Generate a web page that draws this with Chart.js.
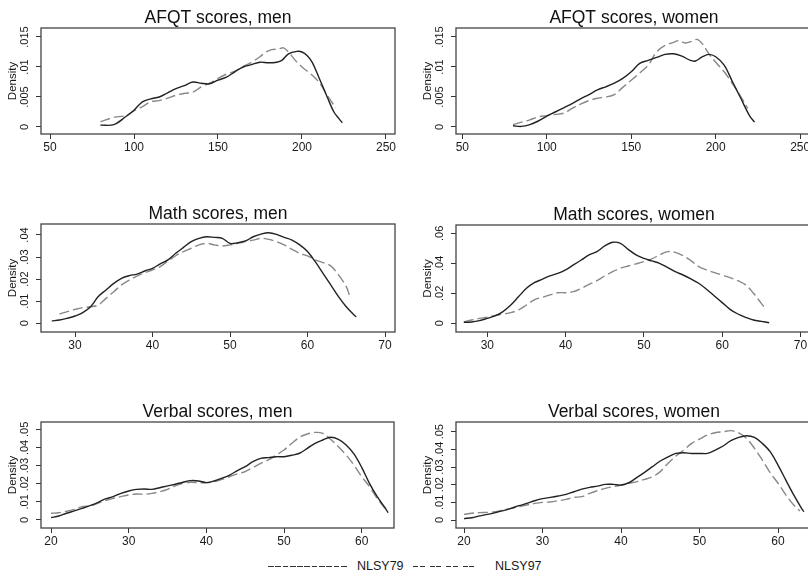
<!DOCTYPE html>
<html>
<head>
<meta charset="utf-8">
<script src="https://cdn.jsdelivr.net/npm/chart.js@4.4.1/dist/chart.umd.min.js"></script>
<style>
  html, body { margin: 0; padding: 0; background: #fff; overflow: hidden; width: 808px; height: 575px; }
  .panel { position: absolute; }
  .legend { position: absolute; top: 558px; font: 12.5px "Liberation Sans", Arial, sans-serif; color: #1a1a1a; white-space: pre; line-height: 16px; }
  .key { position: absolute; top: 566px; height: 1.3px; }
  .key79 { left: 268px; width: 80px; background: repeating-linear-gradient(to right, #333 0 5.6px, transparent 5.6px 7.3px); }
  .key97 { left: 413px; width: 65px; background: repeating-linear-gradient(to right, #333 0 5px, transparent 5px 6.6px, #333 6.6px 11.6px, transparent 11.6px 16.6px); }
</style>
</head>
<body>
<div class="key key79"></div>
<div class="legend" style="left:357px;">NLSY79</div>
<div class="key key97"></div>
<div class="legend" style="left:495px;">NLSY97</div>

<script>
// series names
const seriesNames = ['NLSY79', 'NLSY97'];

// AFQT scores, men
const afqtMenX79 = [80, 88, 95, 100, 105, 110, 115, 120, 125, 130, 135, 140, 145, 150, 155, 160, 165, 170, 175, 180, 185, 188, 192, 197, 200, 203, 206, 210, 215, 219, 222, 224];
const afqtMenY79 = [.0003, .0004, .0017, .0028, .0042, .0047, .005, .0057, .0064, .0069, .0075, .0073, .0072, .0078, .0083, .0092, .01, .0104, .0108, .0107, .0108, .0111, .0122, .0126, .0125, .0119, .0108, .0083, .005, .0025, .0014, .0007];
const afqtMenX97 = [80, 88, 95, 100, 105, 110, 115, 120, 125, 130, 135, 140, 145, 150, 155, 160, 165, 170, 175, 178, 182, 186, 189, 192, 196, 200, 205, 210, 215, 220];
const afqtMenY97 = [.0009, .0016, .0019, .0027, .0034, .0042, .0044, .0048, .0053, .0056, .0058, .0067, .0073, .0081, .0088, .0093, .0101, .0108, .0117, .0124, .0129, .013, .0132, .0125, .0111, .01, .0089, .0075, .0053, .0032];

// AFQT scores, women
const afqtWomenX79 = [80, 85, 90, 95, 100, 105, 110, 115, 120, 125, 130, 135, 140, 145, 150, 155, 160, 165, 170, 175, 180, 185, 188, 192, 196, 200, 205, 210, 215, 220, 223];
const afqtWomenY79 = [.0002, .0001, .0004, .001, .0018, .0025, .0032, .0039, .0047, .0054, .0062, .0067, .0073, .0081, .0092, .0106, .0111, .0116, .0121, .0122, .0118, .0111, .011, .0117, .0121, .0117, .0103, .0075, .0047, .0019, .0008];
const afqtWomenX97 = [80, 85, 90, 95, 100, 105, 110, 115, 120, 125, 130, 135, 140, 145, 150, 155, 160, 165, 170, 175, 178, 182, 186, 189, 192, 196, 200, 205, 210, 215, 219];
const afqtWomenY97 = [.0004, .0008, .0012, .0017, .0019, .0021, .0023, .0031, .0038, .0044, .0048, .005, .0054, .0066, .0078, .009, .0103, .0125, .0136, .0141, .0144, .014, .0143, .0146, .0139, .0122, .0108, .0092, .0072, .005, .0031];

// Math scores, men
const mathMenX79 = [27, 28, 29, 30, 31, 32, 33, 34, 35, 36, 37, 38, 39, 40, 41, 42, 43, 44, 45, 46, 47, 48, 49, 50, 51, 52, 53, 54, 55, 56, 57, 58, 59, 60, 61, 62, 63, 64, 65, 66, 66.3];
const mathMenY79 = [.0011, .0015, .0023, .0033, .0048, .0075, .0121, .0151, .0181, .0204, .0216, .0223, .0237, .0249, .0269, .0287, .0317, .0344, .037, .0385, .0392, .0389, .0385, .0362, .0365, .0373, .0392, .0404, .041, .0403, .0389, .0377, .0355, .0325, .0279, .0226, .0174, .0121, .0075, .0038, .0029];
const mathMenX97 = [28, 29, 30, 31, 32, 33, 34, 35, 36, 37, 38, 39, 40, 41, 42, 43, 44, 45, 46, 47, 48, 49, 50, 51, 52, 53, 54, 55, 56, 57, 58, 59, 60, 61, 62, 63, 64, 65, 65.4];
const mathMenY97 = [.0042, .0053, .0063, .0071, .0075, .0083, .0113, .0143, .0174, .0196, .0214, .0229, .0242, .0257, .0282, .0306, .0325, .034, .0355, .0362, .0355, .035, .0355, .0362, .037, .0377, .0385, .038, .037, .0355, .0335, .0317, .0305, .0287, .0275, .026, .0219, .0166, .0128];

// Math scores, women
const mathWomenX79 = [27, 28, 29, 30, 31, 32, 33, 34, 35, 36, 37, 38, 39, 40, 41, 42, 43, 44, 45, 46, 47, 48, 49, 50, 51, 52, 53, 54, 55, 56, 57, 58, 59, 60, 61, 62, 63, 64, 65, 66];
const mathWomenY79 = [.0007, .0009, .0018, .0033, .0049, .0078, .0122, .0178, .0233, .0271, .0293, .0316, .0333, .0356, .0389, .0422, .0456, .0478, .0516, .054, .0533, .0493, .0456, .0433, .0416, .04, .0373, .0344, .0322, .0296, .0267, .0227, .0182, .0138, .0093, .0062, .004, .0022, .0013, .0004];
const mathWomenX97 = [27, 28, 29, 30, 31, 32, 33, 34, 35, 36, 37, 38, 39, 40, 41, 42, 43, 44, 45, 46, 47, 48, 49, 50, 51, 52, 53, 54, 55, 56, 57, 58, 59, 60, 61, 62, 63, 64, 65, 65.5];
const mathWomenY97 = [.0009, .0022, .0033, .004, .0053, .0062, .0071, .0089, .0122, .0156, .0173, .0189, .0204, .0204, .0211, .0233, .026, .0284, .0316, .0344, .0367, .0382, .0396, .0411, .0429, .0456, .0478, .0473, .0451, .0418, .0378, .0356, .0338, .0322, .0304, .0284, .0256, .02, .0133, .01];

// Verbal scores, men
const verbalMenX79 = [20, 21, 22, 23, 24, 25, 26, 27, 28, 29, 30, 31, 32, 33, 34, 35, 36, 37, 38, 39, 40, 41, 42, 43, 44, 45, 46, 47, 48, 49, 50, 51, 52, 53, 54, 55, 56, 57, 58, 59, 60, 61, 62, 63, 63.4];
const verbalMenY79 = [.0013, .0022, .0037, .005, .0064, .0079, .0096, .0116, .0129, .0147, .016, .0169, .0171, .0169, .0178, .0188, .0197, .0208, .0217, .0215, .0206, .0215, .023, .0248, .0272, .0294, .0322, .034, .0344, .0349, .0349, .0357, .0368, .0395, .0423, .0441, .0456, .0445, .0414, .0364, .029, .0202, .0129, .0068, .004];
const verbalMenX97 = [20, 21, 22, 23, 24, 25, 26, 27, 28, 29, 30, 31, 32, 33, 34, 35, 36, 37, 38, 39, 40, 41, 42, 43, 44, 45, 46, 47, 48, 49, 50, 51, 52, 53, 54, 55, 56, 57, 58, 59, 60, 61, 62, 63];
const verbalMenY97 = [.0037, .004, .0048, .0059, .0074, .0077, .0092, .0107, .0119, .0129, .0138, .0143, .0142, .0147, .0156, .0169, .0188, .0202, .0208, .0206, .0206, .0211, .0224, .0239, .0254, .0267, .0289, .0312, .0331, .0358, .0386, .0423, .0456, .0474, .0483, .0478, .0445, .0404, .0358, .0303, .0239, .0184, .0119, .0064];

// Verbal scores, women
const verbalWomenX79 = [20, 21, 22, 23, 24, 25, 26, 27, 28, 29, 30, 31, 32, 33, 34, 35, 36, 37, 38, 39, 40, 41, 42, 43, 44, 45, 46, 47, 48, 49, 50, 51, 52, 53, 54, 55, 56, 57, 58, 59, 60, 61, 62, 63, 63.3];
const verbalWomenY79 = [.0008, .0013, .0023, .0032, .0042, .0053, .0066, .0081, .0094, .0109, .0121, .0128, .0136, .0145, .016, .0175, .0185, .0192, .0202, .0202, .0198, .0211, .024, .027, .0302, .0334, .0358, .0377, .0381, .0377, .0377, .0377, .0396, .0419, .0449, .0468, .0477, .0468, .0434, .0387, .0311, .0226, .0142, .0066, .0047];
const verbalWomenX97 = [20, 21, 22, 23, 24, 25, 26, 27, 28, 29, 30, 31, 32, 33, 34, 35, 36, 37, 38, 39, 40, 41, 42, 43, 44, 45, 46, 47, 48, 49, 50, 51, 52, 53, 54, 55, 56, 57, 58, 59, 60, 61, 62, 62.8];
const verbalWomenY97 = [.0032, .0038, .0042, .0043, .0047, .0057, .0066, .0075, .0085, .0094, .01, .0102, .0109, .0117, .0128, .0132, .0151, .0166, .0179, .0189, .0196, .0208, .0217, .023, .0245, .0274, .0321, .0362, .0396, .0434, .0458, .0481, .0494, .05, .0506, .0494, .0462, .0406, .034, .0268, .0208, .0142, .0085, .0051];

// tick values
const afqtXTicks = [50, 100, 150, 200, 250];
const afqtYTicks = [0, .005, .01, .015];
const mathXTicks = [30, 40, 50, 60, 70];
const mathMenYTicks = [0, .01, .02, .03, .04];
const mathWomenYTicks = [0, .02, .04, .06];
const verbalXTicks = [20, 30, 40, 50, 60];
const verbalYTicks = [0, .01, .02, .03, .04, .05];

const FONT = '"Liberation Sans", Arial, Helvetica, sans-serif';
const Y_AXIS_W = 41;
const TOP_PAD = 28;
const X_AXIS_H = 26;

// Stata style: y labels are ".005" not "0.005"
const stataNum = (v) => (v === 0 ? '0' : String(v).replace(/^0\./, '.'));

const stataDecor = {
  id: 'stataDecor',
  afterDraw(chart, args, opts) {
    const { ctx, chartArea: a } = chart;
    const ys = chart.scales.y;
    ctx.save();
    // frame
    ctx.strokeStyle = '#444';
    ctx.lineWidth = 1.3;
    ctx.strokeRect(a.left, a.top, a.right - a.left, a.bottom - a.top);
    // title
    ctx.fillStyle = '#111';
    ctx.font = '17.5px ' + FONT;
    ctx.textAlign = 'center';
    ctx.textBaseline = 'alphabetic';
    ctx.fillText(opts.title, (a.left + a.right) / 2, a.top - 5.5);
    // rotated y tick labels
    ctx.font = '11px ' + FONT;
    ctx.fillStyle = '#1a1a1a';
    ctx.textBaseline = 'middle';
    ys.ticks.forEach((t) => {
      ctx.save();
      ctx.translate(a.left - 16.5, ys.getPixelForValue(t.value));
      ctx.rotate(-Math.PI / 2);
      ctx.fillText(stataNum(t.value), 0, 0);
      ctx.restore();
    });
    ctx.restore();
  },
};

function pairs(xs, ys) {
  return xs.map((x, i) => ({ x, y: ys[i] }));
}

function makePanel(p) {
  const div = document.createElement('div');
  div.className = 'panel';
  const [l, t, r, b] = p.area;
  div.style.left = (l - Y_AXIS_W) + 'px';
  div.style.top = (t - TOP_PAD) + 'px';
  div.style.width = (r - l + Y_AXIS_W + 9) + 'px';
  div.style.height = (b - t + TOP_PAD + X_AXIS_H) + 'px';
  const canvas = document.createElement('canvas');
  div.appendChild(canvas);
  document.body.appendChild(div);

  new Chart(canvas, {
    type: 'line',
    data: {
      datasets: [{
        label: seriesNames[0],
        data: pairs(p.x79, p.y79),
        borderColor: '#222',
        borderWidth: 1.4,
        pointRadius: 0,
        tension: 0.35,
        fill: false,
      }, {
        label: seriesNames[1],
        data: pairs(p.x97, p.y97),
        borderColor: '#888',
        borderWidth: 1.4,
        borderDash: [10, 4],
        pointRadius: 0,
        tension: 0.35,
        fill: false,
      }],
    },
    options: {
      responsive: true,
      maintainAspectRatio: false,
      animation: false,
      layout: { padding: { top: TOP_PAD, right: 9, left: 0, bottom: 0 } },
      plugins: {
        legend: { display: false },
        tooltip: { enabled: false },
        stataDecor: { title: p.title },
      },
      scales: {
        x: {
          type: 'linear',
          min: p.xRange[0],
          max: p.xRange[1],
          afterBuildTicks: (s) => { s.ticks = p.xTicks.map((v) => ({ value: v })); },
          afterFit: (s) => { s.height = X_AXIS_H; s.paddingLeft = 0; s.paddingRight = 0; },
          grid: { drawOnChartArea: false, drawTicks: true, tickLength: 5, color: '#333' },
          border: { display: false },
          ticks: {
            padding: 1,
            maxRotation: 0,
            autoSkip: false,
            color: '#1a1a1a',
            font: { family: FONT, size: 12 },
            callback: (v) => String(v),
          },
        },
        y: {
          type: 'linear',
          min: p.yRange[0],
          max: p.yRange[1],
          afterBuildTicks: (s) => { s.ticks = p.yTicks.map((v) => ({ value: v })); },
          afterFit: (s) => { s.width = Y_AXIS_W; s.paddingTop = 0; s.paddingBottom = 0; },
          grid: { drawOnChartArea: false, drawTicks: true, tickLength: 5, color: '#333' },
          border: { display: false },
          ticks: { display: false },
          title: {
            display: true,
            text: 'Density',
            color: '#1a1a1a',
            font: { family: FONT, size: 11.5 },
            padding: { top: 5.6, bottom: 0 },
          },
        },
      },
    },
    plugins: [stataDecor],
  });
}

const panels = [
  { title: 'AFQT scores, men', area: [41, 28, 395, 134], xRange: [44.64, 255.36], yRange: [-0.001167, 0.0165],
    xTicks: afqtXTicks, yTicks: afqtYTicks, x79: afqtMenX79, y79: afqtMenY79, x97: afqtMenX97, y97: afqtMenY97 },
  { title: 'AFQT scores, women', area: [456, 28, 812, 134], xRange: [46.27, 257.0], yRange: [-0.001167, 0.0165],
    xTicks: afqtXTicks, yTicks: afqtYTicks, x79: afqtWomenX79, y79: afqtWomenY79, x97: afqtWomenX97, y97: afqtWomenY97 },
  { title: 'Math scores, men', area: [41, 224, 395, 332], xRange: [25.61, 71.29], yRange: [-0.00394, 0.04498],
    xTicks: mathXTicks, yTicks: mathMenYTicks, x79: mathMenX79, y79: mathMenY79, x97: mathMenX97, y97: mathMenY97 },
  { title: 'Math scores, women', area: [456, 225, 812, 332], xRange: [26.0, 71.47], yRange: [-0.0058, 0.06553],
    xTicks: mathXTicks, yTicks: mathWomenYTicks, x79: mathWomenX79, y79: mathWomenY79, x97: mathWomenX97, y97: mathWomenY97 },
  { title: 'Verbal scores, men', area: [41, 422, 394, 528], xRange: [18.71, 64.16], yRange: [-0.00441, 0.05402],
    xTicks: verbalXTicks, yTicks: verbalYTicks, x79: verbalMenX79, y79: verbalMenY79, x97: verbalMenX97, y97: verbalMenY97 },
  { title: 'Verbal scores, women', area: [456, 422, 812, 528], xRange: [18.98, 64.33], yRange: [-0.00453, 0.0555],
    xTicks: verbalXTicks, yTicks: verbalYTicks, x79: verbalWomenX79, y79: verbalWomenY79, x97: verbalWomenX97, y97: verbalWomenY97 },
];

panels.forEach(makePanel);
</script>
</body>
</html>
